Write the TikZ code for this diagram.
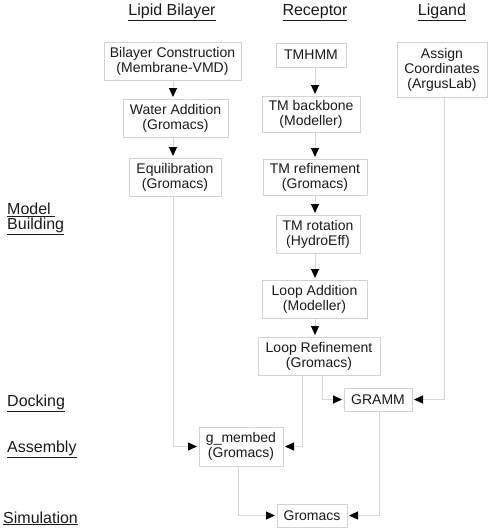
\documentclass[tikz,border=0pt]{standalone}
\usepackage{fontspec}
\setmainfont{Liberation Sans}
\usetikzlibrary{arrows.meta}
\definecolor{boxline}{HTML}{D2D2D2}
\definecolor{connline}{HTML}{D6D6D6}
\definecolor{txt}{HTML}{1A1A1A}
\tikzset{
  procbox/.style={draw=boxline, line width=1pt, fill=white, text=txt, align=center, inner sep=0pt,
    font=\fontsize{14}{15}\selectfont},
  conn/.style={draw=connline, line width=1pt, -{Triangle[length=9pt,width=8pt,color=black,fill=black]}, shorten >=1.5pt},
  heading/.style={text=txt, font=\fontsize{16}{15}\selectfont, inner sep=0pt},
}
\begin{document}
\begin{tikzpicture}[x=1pt,y=-1pt]
\useasboundingbox (0,0) rectangle (490,530);
% column guide coordinates
\coordinate (lc) at (173,0);
\coordinate (rc) at (315,0);
% headings
\node[heading, anchor=base] (hlip) at (172,15) {\underline{Lipid Bilayer}};
\node[heading, anchor=base] (hrec) at (315,15) {\underline{Receptor}};
\node[heading, anchor=base] (hlig) at (442,15) {\underline{Ligand}};
\node[heading, anchor=base west, align=left] (hmod) at (7,229.5) {\underline{Model\ }\\\underline{Building}};
\node[heading, anchor=base west] (hdock) at (7,406) {\underline{Docking}};
\node[heading, anchor=base west] (hass) at (7,452) {\underline{Assembly}};
\node[heading, anchor=base west] (hsim) at (3,523) {\underline{Simulation}};
% lipid column
\node[procbox, minimum width=137pt, minimum height=38pt] (bc) at (172.5,61) {Bilayer Construction\\(Membrane-VMD)};
\node[procbox, minimum width=105pt, minimum height=38pt] (wa) at (175.5,118) {Water Addition\\(Gromacs)};
\node[procbox, minimum width=92pt, minimum height=38pt] (eq) at (175,177) {Equilibration\\(Gromacs)};
% receptor column
\node[procbox, minimum width=70pt, minimum height=24pt] (tmhmm) at (311,55) {TMHMM};
\node[procbox, minimum width=98pt, minimum height=36pt] (tmb) at (311,114) {TM backbone\\(Modeller)};
\node[procbox, minimum width=104pt, minimum height=36pt] (tmr) at (315,177) {TM refinement\\(Gromacs)};
\node[procbox, minimum width=84pt, minimum height=38pt] (tmrot) at (318,234) {TM rotation\\(HydroEff)};
\node[procbox, minimum width=105pt, minimum height=38pt] (la) at (314.5,299) {Loop Addition\\(Modeller)};
\node[procbox, minimum width=122pt, minimum height=38pt] (lr) at (319,356) {Loop Refinement\\(Gromacs)};
% ligand column
\node[procbox, minimum width=90pt, minimum height=55pt] (ac) at (442,69.5) {Assign\\Coordinates\\(ArgusLab)};
% lower part
\node[procbox, minimum width=68pt, minimum height=23pt] (gramm) at (378,399.5) {GRAMM};
\node[procbox, minimum width=84pt, minimum height=39pt] (gm) at (241,446.5) {g\_membed\\(Gromacs)};
\node[procbox, minimum width=70pt, minimum height=23pt] (gro) at (312,515.5) {Gromacs};
% vertical arrows
\draw[conn] (bc.south -| lc) -- (wa.north -| lc);
\draw[conn] (wa.south -| lc) -- (eq.north -| lc);
\draw[conn] (tmhmm.south -| rc) -- (tmb.north -| rc);
\draw[conn] (tmb.south -| rc) -- (tmr.north -| rc);
\draw[conn] (tmr.south -| rc) -- (tmrot.north -| rc);
\draw[conn] (tmrot.south -| rc) -- (la.north -| rc);
\draw[conn] (la.south -| rc) -- (lr.north -| rc);
% elbow connectors
\draw[conn] (eq.south -| lc) |- (gm.west);
\draw[conn] ([xshift=-17pt]lr.south) |- (gm.east);
\draw[conn] ([xshift=3pt]lr.south) |- (gramm.west);
\draw[conn] ([xshift=2pt]ac.south) |- (gramm.east);
\draw[conn] ([xshift=1pt]gramm.south) |- (gro.east);
\draw[conn] ([xshift=-3pt]gm.south) |- (gro.west);
\end{tikzpicture}
\end{document}
